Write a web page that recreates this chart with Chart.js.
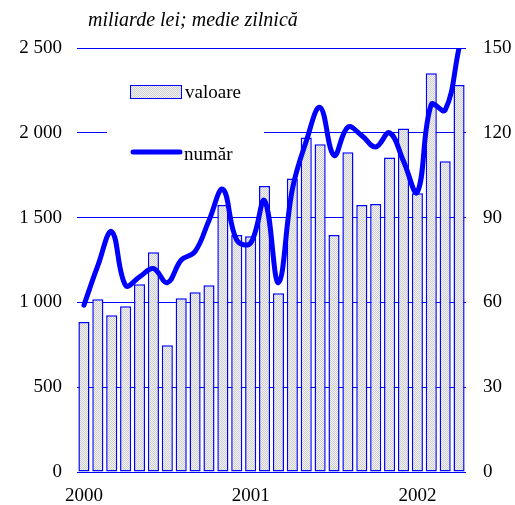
<!DOCTYPE html>
<html>
<head>
<meta charset="utf-8">
<script src="https://cdn.jsdelivr.net/npm/chart.js@4"></script>
<style>
  html, body { margin: 0; padding: 0; background: #fff; }
  #wrap { width: 515px; height: 505px; }
</style>
</head>
<body>
<div id="wrap"><canvas id="chartCanvas" width="515" height="505"></canvas></div>
<script>
  // lunar, ian 2000 - apr 2002
  const months = [
    '2000-01','2000-02','2000-03','2000-04','2000-05','2000-06','2000-07','2000-08','2000-09','2000-10','2000-11','2000-12',
    '2001-01','2001-02','2001-03','2001-04','2001-05','2001-06','2001-07','2001-08','2001-09','2001-10','2001-11','2001-12',
    '2002-01','2002-02','2002-03','2002-04'
  ];
  // valoare, miliarde lei (axa stanga)
  const valoare = [885, 1018, 924, 977, 1107, 1295, 747, 1024, 1060, 1101, 1574, 1397,
                   1390, 1686, 1054, 1731, 1973, 1932, 1397, 1885, 1574, 1580, 1855, 2026,
                   1643, 2351, 1832, 2282];
  // numar (axa dreapta)
  const numar = [59, 73, 85, 66, 69, 72, 67, 75, 78, 89, 100, 82,
                 81, 96, 67, 100, 117, 129, 112, 122, 119, 115, 120, 110,
                 99, 130, 128, 150];
  const leftTicks = [0, 500, 1000, 1500, 2000, 2500];
  const rightTicks = [0, 30, 60, 90, 120, 150];

  const blue = '#0000ff';
  const serif = '"Liberation Serif", "Times New Roman", serif';

  function makePattern() {
    const c = document.createElement('canvas');
    c.width = 2; c.height = 2;
    const g = c.getContext('2d');
    g.fillStyle = '#f4f4f4';
    g.fillRect(0, 0, 2, 2);
    g.fillStyle = '#cccccc';
    g.fillRect(0, 0, 1, 1);
    g.fillRect(1, 1, 1, 1);
    return document.getElementById('chartCanvas').getContext('2d').createPattern(c, 'repeat');
  }
  const barFill = makePattern();

  function fmt(v) {
    return v >= 1000 ? Math.floor(v / 1000) + ' ' + String(v % 1000).padStart(3, '0') : String(v);
  }

  // legenda + titlu desenate direct pe canvas
  const overlay = {
    id: 'overlay',
    beforeDatasetsDraw(chart) {
      const ctx = chart.ctx;
      ctx.save();
      ctx.fillStyle = '#fff';
      ctx.fillRect(107, 70, 157, 102);

      ctx.fillStyle = barFill;
      ctx.fillRect(131, 85.5, 50, 13);
      ctx.strokeStyle = blue;
      ctx.lineWidth = 1;
      ctx.strokeRect(130.5, 85.5, 51, 13);

      ctx.beginPath();
      ctx.moveTo(133, 152);
      ctx.lineTo(180, 152);
      ctx.lineWidth = 5;
      ctx.lineCap = 'round';
      ctx.strokeStyle = blue;
      ctx.stroke();

      ctx.fillStyle = '#000';
      ctx.font = '19px ' + serif;
      ctx.textBaseline = 'middle';
      ctx.fillText('valoare', 185, 93);
      ctx.fillText('număr', 184, 155);

      ctx.font = 'italic 20px ' + serif;
      ctx.textBaseline = 'alphabetic';
      ctx.fillText('miliarde lei; medie zilnică', 88, 26);
      ctx.restore();
    }
  };

  const ctx = document.getElementById('chartCanvas').getContext('2d');
  const chart = new Chart(ctx, {
    type: 'bar',
    data: {
      labels: months,
      datasets: [
        {
          type: 'line',
          label: 'număr',
          data: numar,
          yAxisID: 'y1',
          borderColor: blue,
          borderWidth: 5,
          tension: 0.4,
          pointRadius: 0,
          fill: false,
          borderCapStyle: 'round',
          borderJoinStyle: 'round',
          order: 0
        },
        {
          label: 'valoare',
          data: valoare,
          yAxisID: 'y',
          backgroundColor: barFill,
          borderColor: blue,
          borderWidth: 1.5,
          borderSkipped: false,
          barPercentage: 0.8,
          categoryPercentage: 1,
          order: 1
        }
      ]
    },
    options: {
      responsive: false,
      animation: false,
      layout: { padding: { top: 48, left: 0, right: 0, bottom: 0 } },
      plugins: {
        legend: { display: false },
        tooltip: { enabled: false }
      },
      scales: {
        x: {
          grid: { display: false, drawTicks: false },
          border: { display: false },
          ticks: {
            autoSkip: false,
            maxRotation: 0,
            padding: 13,
            color: '#000',
            font: { family: serif, size: 19 },
            callback: function(v, i) {
              const m = months[i];
              return m.endsWith('-01') ? m.slice(0, 4) : '';
            }
          },
          afterFit: s => { s.height = 33; }
        },
        y: {
          position: 'left',
          min: 0,
          max: 2500,
          afterBuildTicks: s => { s.ticks = leftTicks.map(v => ({ value: v })); },
          grid: { color: blue, lineWidth: 1, drawTicks: false },
          border: { display: false },
          ticks: {
            padding: 15,
            color: '#000',
            font: { family: serif, size: 19 },
            callback: v => fmt(v)
          },
          afterFit: s => { s.width = 77; }
        },
        y1: {
          position: 'right',
          min: 0,
          max: 150,
          afterBuildTicks: s => { s.ticks = rightTicks.map(v => ({ value: v })); },
          grid: { display: false, drawTicks: false },
          border: { display: false },
          ticks: {
            padding: 17,
            color: '#000',
            font: { family: serif, size: 19 }
          },
          afterFit: s => { s.width = 49; }
        }
      }
    },
    plugins: [overlay]
  });
</script>
</body>
</html>
